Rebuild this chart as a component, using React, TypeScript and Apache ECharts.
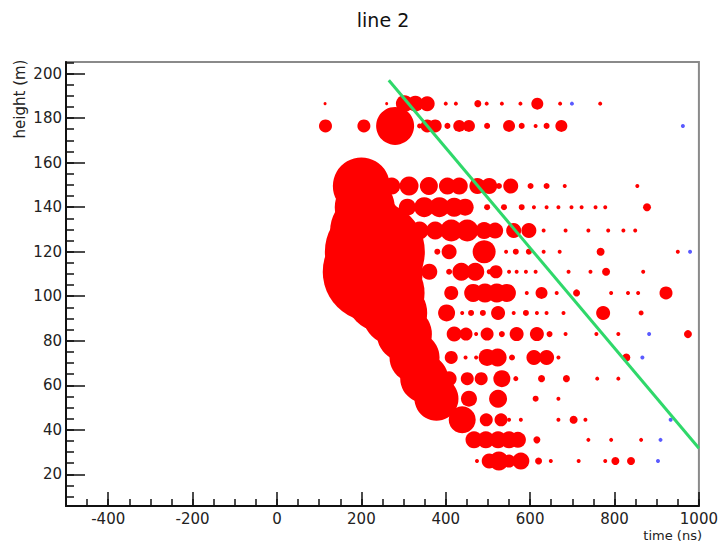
import React, { useEffect, useRef } from 'react';
import * as echarts from 'echarts';

// ---- data ----
const rowHeights = [186.5, 176.5, 149.5, 140, 129.5, 120, 111, 101.5, 92.5, 83, 72.5, 63, 54, 44.5, 35.5, 26];

const rowTimes: number[][] = [
  [114, 260, 302, 328, 356, 400, 424, 476, 497, 533, 577, 617, 671, 766],
  [115, 206, 280, 338, 356, 375, 404, 432, 455, 498, 550, 580, 613, 639, 674],
  [200, 272, 313, 360, 404, 432, 475, 503, 526, 554, 601, 639, 682, 854],
  [208, 309, 349, 385, 420, 446, 498, 538, 580, 609, 639, 667, 698, 722, 755, 778, 877],
  [215, 338, 375, 413, 451, 491, 517, 561, 597, 632, 684, 738, 785, 821, 849],
  [232, 326, 380, 408, 491, 543, 566, 597, 632, 670, 767, 950],
  [227, 361, 408, 437, 470, 503, 519, 550, 568, 590, 613, 691, 743, 780, 868],
  [255, 413, 465, 493, 521, 545, 592, 627, 663, 710, 792, 832, 856, 922],
  [279, 402, 439, 460, 488, 524, 561, 590, 616, 639, 679, 773, 863],
  [302, 420, 448, 472, 498, 533, 568, 616, 646, 684, 757, 809, 974],
  [326, 413, 447, 472, 498, 523, 557, 609, 639, 667, 828],
  [349, 408, 451, 484, 533, 566, 627, 686, 759, 809],
  [378, 455, 524, 613, 667],
  [439, 496, 531, 550, 578, 667, 703, 731],
  [467, 495, 524, 550, 571, 616, 738, 792, 863],
  [474, 503, 526, 550, 578, 620, 649, 715, 778, 802, 839],
];

const rowAmps: number[][] = [
  [3, 3, 17, 16, 15, 4, 4, 7, 4, 4, 4, 12, 4, 4],
  [13, 13, 38, 5, 13, 13, 6, 12, 12, 6, 12, 6, 4, 6, 12],
  [57, 17, 19, 18, 17, 17, 16, 16, 6, 15, 6, 6, 4, 4],
  [60, 17, 20, 20, 19, 17, 6, 6, 6, 4, 4, 4, 4, 4, 4, 4, 8],
  [75, 18, 18, 22, 22, 17, 16, 15, 15, 4, 4, 4, 4, 4, 4],
  [100, 18, 6, 15, 23, 4, 6, 6, 4, 4, 8, 4],
  [100, 16, 6, 18, 18, 5, 13, 4, 4, 4, 4, 4, 4, 8, 4],
  [80, 14, 18, 19, 19, 18, 4, 12, 4, 7, 4, 4, 4, 13],
  [65, 17, 4, 6, 6, 14, 4, 6, 4, 4, 4, 14, 5],
  [55, 15, 13, 4, 13, 6, 14, 14, 6, 4, 4, 4, 8],
  [50, 13, 4, 4, 17, 18, 6, 15, 15, 4, 8],
  [48, 15, 13, 13, 17, 5, 7, 7, 4, 4],
  [44, 16, 18, 6, 4],
  [27, 13, 13, 4, 4, 4, 8, 4],
  [17, 17, 17, 17, 16, 7, 4, 4, 4],
  [4, 15, 19, 13, 17, 7, 4, 4, 4, 8, 8],
];

const blueTimes = [699, 962, 979, 882, 866, 933, 909, 903];
const blueHeights = [186.5, 176.5, 120, 83, 72.5, 44.5, 35.5, 26];

const fitTimes = [265, 1000];
const fitHeights = [197, 31.7];

const xMajorTicks = [-400, -200, 0, 200, 400, 600, 800, 1000];
const yMajorTicks = [20, 40, 60, 80, 100, 120, 140, 160, 180, 200];
const xMinorTicks = Array.from({ length: 30 }, (_, i) => -450 + i * 50);
const yMinorTicks = Array.from({ length: 40 }, (_, i) => 10 + i * 5);

const X_MIN = -500, X_MAX = 1000, Y_MIN = 5.8, Y_MAX = 205.2;

export default function App() {
  const ref = useRef<HTMLDivElement>(null);
  useEffect(() => {
    if (!ref.current) return;
    const chart = echarts.init(ref.current, null, { renderer: 'svg' });

    const red: number[][] = [];
    rowHeights.forEach((h, r) => {
      rowTimes[r].forEach((t, i) => red.push([t, h, rowAmps[r][i]]));
    });
    const blue = blueTimes.map((t, i) => [t, blueHeights[i]]);
    const fit = fitTimes.map((t, i) => [t, fitHeights[i]]);

    const font = 'DejaVu Sans';
    const fmt = (v: number) => String(v);
    const baseX = {
      type: 'value', min: X_MIN, max: X_MAX, position: 'bottom',
      splitLine: { show: false },
    };
    const baseY = {
      type: 'value', min: Y_MIN, max: Y_MAX, position: 'left',
      splitLine: { show: false },
    };

    chart.setOption({
      animation: false,
      grid: {
        left: 66, right: 20, top: 62, bottom: 36,
        show: true, borderColor: '#8a8a8a', borderWidth: 2, backgroundColor: 'transparent',
      },
      xAxis: [
        {
          ...baseX,
          axisLine: { show: true, onZero: false, lineStyle: { color: '#111', width: 2 } },
          axisTick: { show: true, inside: true, length: 14, customValues: xMajorTicks, lineStyle: { color: '#111', width: 1.5 } },
          axisLabel: { show: true, customValues: xMajorTicks, formatter: fmt, margin: 5, fontSize: 15, fontFamily: font, color: '#222' },
        },
        {
          ...baseX,
          axisLine: { show: false, onZero: false },
          axisTick: { show: true, inside: true, length: 7, customValues: xMinorTicks, lineStyle: { color: '#111', width: 1.5 } },
          axisLabel: { show: false },
        },
      ],
      yAxis: [
        {
          ...baseY,
          axisLine: { show: true, onZero: false, lineStyle: { color: '#111', width: 2 } },
          axisTick: { show: true, inside: true, length: 19, customValues: yMajorTicks, lineStyle: { color: '#111', width: 1.5 } },
          axisLabel: { show: true, customValues: yMajorTicks, formatter: fmt, margin: 4, fontSize: 15, fontFamily: font, color: '#222' },
        },
        {
          ...baseY,
          axisLine: { show: false, onZero: false },
          axisTick: { show: true, inside: true, length: 8, customValues: yMinorTicks, lineStyle: { color: '#111', width: 1.5 } },
          axisLabel: { show: false },
        },
      ],
      graphic: [
        { type: 'text', x: 383, y: 20, style: { text: 'line 2', font: `19px "${font}"`, fill: '#111', textAlign: 'center', textVerticalAlign: 'middle' } },
        { type: 'text', x: 20, y: 99, rotation: Math.PI / 2, style: { text: 'height (m)', font: `15px "${font}"`, fill: '#222', textAlign: 'center', textVerticalAlign: 'middle' } },
        { type: 'text', x: 702, y: 535, style: { text: 'time (ns)', font: `13px "${font}"`, fill: '#222', textAlign: 'right', textVerticalAlign: 'middle' } },
      ],
      series: [
        {
          type: 'scatter', xAxisIndex: 0, yAxisIndex: 0, data: red,
          symbol: 'circle', symbolSize: (v: number[]) => v[2],
          itemStyle: { color: '#ff0000', opacity: 1 }, silent: true,
        },
        {
          type: 'scatter', xAxisIndex: 0, yAxisIndex: 0, data: blue,
          symbol: 'circle', symbolSize: 4,
          itemStyle: { color: '#5a5aff', opacity: 1 }, silent: true,
        },
        {
          type: 'line', xAxisIndex: 0, yAxisIndex: 0, data: fit, showSymbol: false, symbol: 'none',
          lineStyle: { color: '#2fd86a', width: 3 }, silent: true,
        },
      ],
    });
    return () => chart.dispose();
  }, []);
  return <div ref={ref} style={{ position: 'fixed', left: 0, top: 0, width: 721, height: 542, background: '#fff' }} />;
}
